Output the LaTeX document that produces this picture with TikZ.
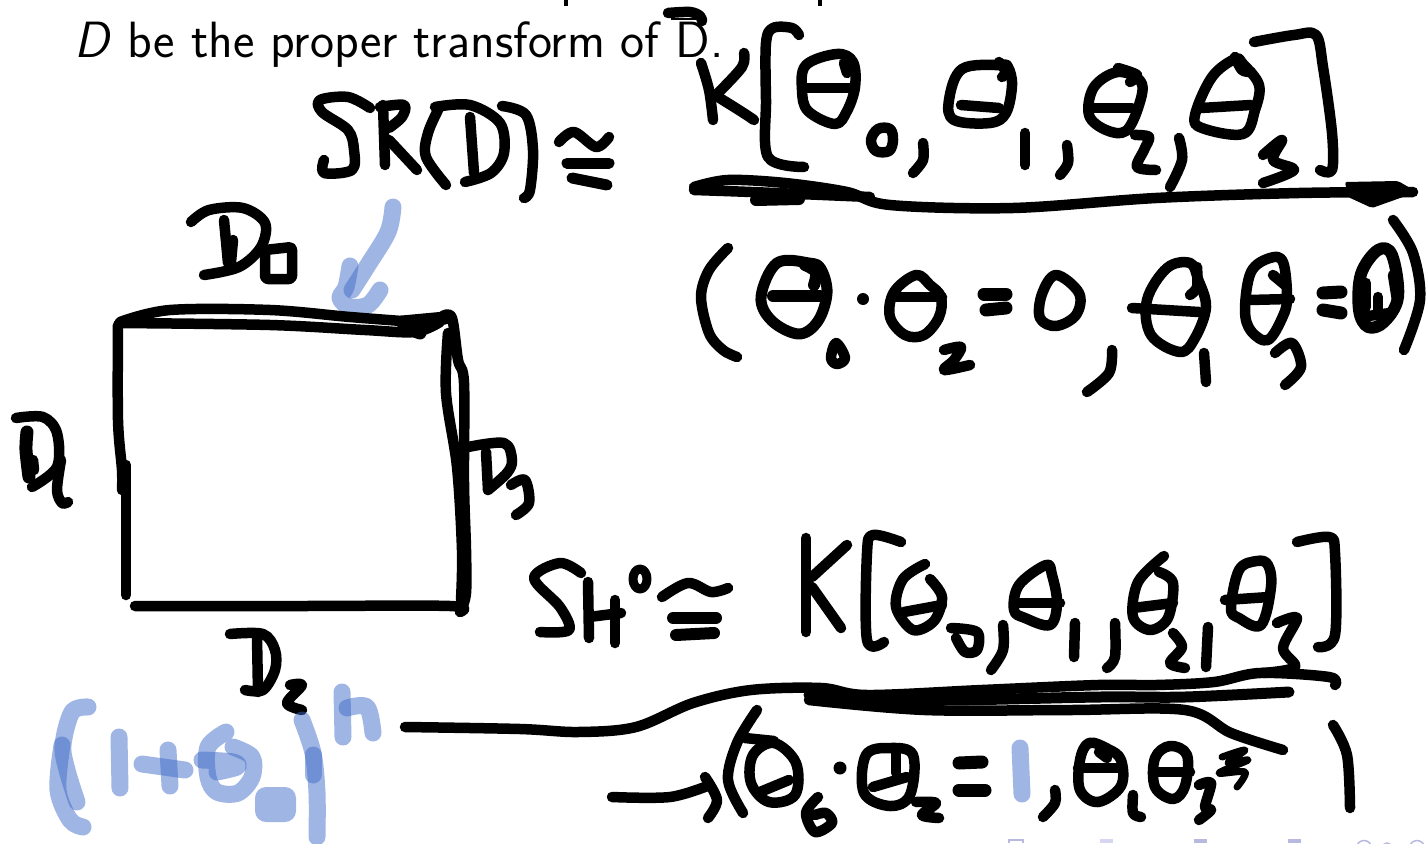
\documentclass[tikz,border=0pt]{standalone}
\definecolor{hlblue}{rgb}{.25,.42,.78}
\definecolor{navdark}{rgb}{.72,.72,.88}
\definecolor{navpale}{rgb}{.84,.84,.94}
\tikzset{
  ink/.style={line width=10.5pt,line cap=round,line join=round,black},
  hl/.style={line width=17pt,line cap=round,line join=round,draw=hlblue,draw opacity=.5},
  navb/.style={fill=navdark,draw=none},
}
\newcommand\stk[2][]{\draw[ink,#1] plot[smooth,tension=.55] coordinates {#2};}
\newcommand\loopk[2][]{\draw[ink,#1] plot[smooth cycle,tension=.6] coordinates {#2};}
\newcommand\hlk[2][]{\draw[hl,#1] plot[smooth,tension=.55] coordinates {#2};}
\begin{document}
\begin{tikzpicture}[x=1pt,y=-1pt]
\useasboundingbox (0,0) rectangle (1426,843);
% printed text
\node[anchor=base west,inner sep=0pt,font=\fontsize{51}{58}\selectfont\sffamily] (title) at (74,57) {\textsl{D} be the proper transform of D.};
\coordinate (tb1) at (671,19);
\coordinate (tb2) at (704,19);
\draw[line width=2pt] (tb1) -- (tb2);
\draw[line width=3.5pt] (566,0) -- (566,6);
\draw[line width=3.5pt] (820,0) -- (820,6);
% overline of D
\stk{(668,13) (690,12) (700,16) (702,21)}
% top numerator
\stk{(701,63) (709,90) (713,120)}
\stk{(744,53) (742,67) (718,93)}
\stk{(718,97) (742,112) (754,120)}
\stk{(799,35) (792,28) (773,28) (766,43) (766,100) (768,157) (804,167)}
\loopk{(837,54) (806,65) (802,90) (808,111) (835,124) (847,111) (855,87) (853,62)}
\stk{(804,88) (851,88)}
\stk{(844,63) (847,73)}
\loopk{(878,129) (871,140) (876,151) (889,151) (893,140) (890,129)}
\stk{(923,143) (923,160) (913,173)}
\loopk{(1000,65) (962,69) (949,100) (954,120) (990,123) (1006,113) (1012,85) (1008,67)}
\stk{(961,105) (999,108)}
\stk{(999,62) (1006,72) (1002,77)}
\stk{(1025,133) (1025,165)}
\stk{(1067,145) (1068,163) (1060,175)}
\loopk{(1118,72) (1094,87) (1089,115) (1106,130) (1126,131) (1139,105) (1141,82)}
\stk{(1094,108) (1132,108)}
\stk{(1118,68) (1137,75) (1130,82)}
\stk{(1135,135) (1149,137) (1144,150) (1137,167) (1156,170)}
\stk{(1179,138) (1182,160) (1170,187)}
\loopk{(1235,59) (1212,77) (1195,115) (1202,128) (1243,134) (1255,110) (1259,85) (1243,64)}
\stk{(1201,108) (1251,105)}
\stk{(1235,57) (1242,70) (1251,72)}
\stk{(1263,155) (1282,140) (1273,160) (1294,170) (1263,183)}
\stk{(1254,42) (1294,35) (1316,35) (1323,67) (1332,133) (1332,170) (1320,170)}
% top fraction bar
\stk{(694,187) (728,180) (785,183) (847,192) (890,205) (1013,208) (1156,198) (1299,193) (1413,192)}
\stk{(694,190) (751,192) (870,197)}
\stk[line width=12pt]{(756,200) (799,199)}
\fill[black,rounded corners=2pt] (1345,182) -- (1398,181) -- (1417,192) -- (1372,208) -- (1348,197) -- cycle;
% top denominator
\stk{(728,248) (709,270) (701,297) (709,333) (723,350) (737,357)}
\loopk[line width=11pt]{(809,263) (777,263) (761,297) (772,321) (799,334) (818,321) (827,293) (821,269)}
\stk[line width=12pt]{(773,296) (820,296)}
\stk[line width=12pt]{(805,265) (816,272) (814,285)}
\loopk{(836,343) (831,358) (837,364) (845,358)}
\fill[black] (863,299) circle (6);
\loopk{(916,275) (894,292) (890,317) (905,335) (924,335) (939,317) (941,297) (930,285)}
\stk{(894,297) (942,297)}
\stk{(944,350) (961,347) (954,360) (944,370) (970,365)}
\stk[line width=13pt]{(984,294) (1006,294)}
\stk[line width=13pt]{(986,310) (1006,308)}
\loopk{(1056,275) (1042,294) (1040,318) (1056,326) (1076,315) (1079,293)}
\stk{(1112,350) (1109,373) (1087,392)}
\loopk{(1190,263) (1167,268) (1147,300) (1151,335) (1180,352) (1195,338) (1206,307) (1198,279)}
\stk{(1132,308) (1199,312)}
\stk{(1197,267) (1197,287) (1190,295)}
\stk{(1204,353) (1206,382)}
\loopk{(1270,258) (1251,272) (1245,310) (1251,331) (1268,340) (1283,316) (1287,297) (1283,262)}
\stk{(1249,300) (1290,299)}
\stk{(1273,275) (1285,285)}
\stk{(1275,353) (1292,343) (1301,367) (1285,385)}
\stk[line width=13pt]{(1323,293) (1341,292)}
\stk[line width=13pt]{(1323,310) (1341,313)}
\loopk[line width=12pt]{(1378,250) (1361,274) (1359,310) (1368,327) (1384,322) (1398,297) (1392,255)}
\stk{(1366,283) (1366,307)}
\stk{(1378,297) (1378,310)}
\stk{(1361,317) (1390,313)}
\stk{(1393,275) (1397,300)}
\stk{(1393,220) (1413,253) (1420,300) (1404,350)}
% SR(D)
\stk{(370,108) (348,97) (320,100) (322,112) (348,130) (354,150) (352,170) (324,173) (324,160)}
\stk{(383,105) (385,165)}
\stk{(380,107) (404,105) (402,117) (389,128)}
\stk{(389,140) (417,170)}
\stk{(439,108) (428,133) (426,157) (446,185)}
\stk{(470,117) (474,173)}
\stk{(435,107) (470,105) (500,123) (504,153) (491,173) (465,182)}
\stk{(502,106) (526,115) (533,150) (530,190) (524,198)}
\stk{(559,142) (574,132) (596,147) (609,137)}
\stk[line width=11pt]{(567,163) (609,163)}
\stk[line width=11pt]{(572,178) (607,185)}
% blue arrow
\hlk{(393,207) (388,232) (368,265) (352,290)}
\hlk{(350,266) (346,287) (340,298) (350,307) (368,305) (380,290)}
% D0
\stk{(191,222) (209,210) (243,208) (265,223) (261,247) (239,267) (204,275)}
\stk{(224,220) (228,263)}
\stk{(233,240) (231,262)}
\draw[ink,rounded corners=3pt] (265,250) -- (292,247) -- (292,279) -- (265,279) -- cycle;
% square
\stk{(120,323) (270,325) (365,330) (415,332) (440,322)}
\stk{(120,322) (170,310) (270,310) (350,317) (415,322)}
\stk[line width=13pt]{(402,322) (445,318)}
\stk[line width=13pt]{(412,330) (420,333)}
\stk{(118,325) (118,420) (122,470) (122,490)}
\stk{(126,465) (126,540) (126,595)}
\stk{(135,606) (300,606) (450,606) (460,612)}
\stk{(443,316) (452,318) (458,360) (464,383) (464,483) (466,550) (466,593) (461,610)}
\stk{(448,333) (446,393) (457,467) (462,550) (461,600)}
% D1
\stk{(16,418) (43,417) (57,433) (57,467) (32,487)}
\stk[line width=13pt]{(27,432) (26,450) (29,477)}
\stk{(33,460) (34,470)}
\stk{(61,460) (57,490) (62,503) (68,502)}
% D3
\stk{(468,447) (504,443) (512,460) (507,473) (488,490)}
\stk{(486,452) (488,490)}
\stk{(511,485) (525,480) (529,503) (516,515)}
% D2
\stk{(230,634) (263,634) (275,650) (275,670) (263,690) (245,690)}
\stk{(257,637) (258,692)}
\stk{(290,685) (302,685) (287,703) (302,710)}
% blue binomial
\hlk{(88,707) (72,712) (63,745) (67,770) (77,802)}
\hlk{(62,745) (58,790) (70,820) (83,827)}
\hlk{(119,737) (120,788)}
\hlk{(142,764) (185,770)}
\hlk{(168,750) (170,786)}
\hlk{(226,732) (208,747) (208,777) (217,792) (238,793) (252,777) (252,757) (233,747)}
\hlk{(202,760) (233,762) (237,767) (217,772)}
\fill[rounded corners=11pt,fill=hlblue,fill opacity=.5] (255,787) rectangle (296,822);
\hlk{(302,720) (313,753) (317,793) (317,837)}
\hlk{(313,755) (313,775)}
\hlk{(342,692) (343,737)}
\hlk{(347,708) (367,707) (373,733)}
% lower long line
\stk{(405,727) (520,729) (578,732) (636,727) (693,703) (751,690) (821,688) (867,695) (982,690) (1098,685) (1156,685) (1214,682) (1260,673) (1329,677) (1335,685)}
\stk[line width=11pt]{(809,695) (930,700) (1100,697) (1185,697) (1289,692)}
\stk{(809,700) (925,710) (1069,710) (1185,710) (1231,733) (1283,750)}
% SH0
\stk{(581,573) (560,563) (534,578) (560,607) (569,630) (540,632)}
\stk{(588,582) (589,638)}
\stk{(615,600) (615,643)}
\stk{(589,617) (621,613)}
\draw[ink,line width=9pt] (640,579) ellipse (7 and 10);
\stk{(662,597) (688,583) (711,592) (728,588)}
\stk[line width=12pt]{(673,618) (716,618)}
\stk[line width=12pt]{(676,635) (714,633)}
\stk{(806,538) (806,632)}
\stk{(847,545) (812,577)}
\stk{(812,587) (841,628)}
\stk{(901,542) (873,535) (867,553) (867,640) (884,642)}
\stk{(925,564) (903,579) (896,607) (913,630) (934,621) (942,597) (930,579)}
\stk{(904,612) (942,605)}
\stk{(951,628) (977,632) (977,650) (965,652) (956,638)}
\stk{(1003,625) (1003,650) (991,670)}
\loopk{(1046,565) (1019,585) (1014,610) (1025,618) (1050,625) (1057,603) (1052,575)}
\stk{(1017,603) (1060,603)}
\stk{(1075,623) (1074,657)}
\stk{(1115,623) (1115,657) (1107,668)}
\stk{(1164,556) (1138,582) (1133,617) (1150,630) (1168,618) (1173,583) (1159,572)}
\stk{(1133,608) (1173,603)}
\stk{(1173,633) (1182,647) (1170,663) (1185,668)}
\stk{(1208,627) (1206,667)}
\loopk{(1257,561) (1239,570) (1231,608) (1239,618) (1261,625) (1271,587) (1268,565)}
\stk{(1225,600) (1269,597)}
\stk{(1277,623) (1297,618) (1283,648) (1295,667) (1263,673)}
\stk{(1297,542) (1329,537) (1335,553) (1335,635) (1318,647)}
% lower denominator
\stk{(612,797) (670,797) (710,785)}
\stk{(705,777) (717,800) (708,818)}
\stk{(757,710) (737,743) (728,780) (743,813)}
\loopk{(774,743) (753,755) (751,783) (769,802) (795,795) (796,763)}
\stk{(760,792) (789,780)}
\stk{(745,738) (774,741)}
\stk{(818,797) (806,813) (815,832) (832,823) (826,813) (815,815)}
\fill[black] (840,768) circle (6.5);
\loopk{(890,748) (866,755) (864,793) (890,806) (910,795) (913,755)}
\stk{(873,787) (907,777)}
\stk{(896,753) (896,773)}
\stk{(916,802) (936,803) (922,815) (939,818)}
\stk[line width=13pt]{(959,763) (982,762)}
\stk[line width=13pt]{(959,790) (985,790)}
\hlk{(1020,748) (1022,794)}
\stk{(1055,790) (1055,803) (1043,817)}
\loopk{(1089,743) (1080,760) (1080,790) (1098,802) (1121,786) (1121,760) (1108,749)}
\stk{(1078,768) (1121,768)}
\stk{(1099,752) (1107,758)}
\stk{(1133,795) (1133,813) (1141,817)}
\loopk{(1170,746) (1155,758) (1155,787) (1173,799) (1185,786) (1187,755)}
\stk{(1153,772) (1190,772)}
\stk{(1199,785) (1211,783) (1205,807) (1211,810) (1199,820)}
\stk[line width=7pt]{(1222,757) (1245,750) (1228,763) (1248,760) (1219,773) (1245,772) (1237,787)}
\stk{(1333,725) (1347,755) (1350,808)}
% beamer navigation symbols, cut by the page edge
\draw[line width=1.5pt,navdark] (1009,843) -- (1009,840) -- (1023,840) -- (1023,843);
\fill[fill=navpale] (1100,839) rectangle (1113,843);
\fill[navb] (1194,839) rectangle (1207,843);
\fill[navb] (1288,839) rectangle (1301,843);
\draw[line width=1.5pt,navdark] (1364,848) circle (7.5);
\draw[line width=1.5pt,navdark] (1387,848) circle (5);
\draw[line width=1.5pt,navdark] (1417,848) circle (7.5);
\end{tikzpicture}
\end{document}
